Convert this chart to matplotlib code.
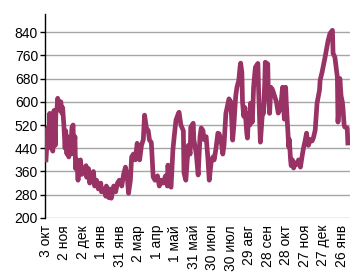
import numpy as np
import pandas as pd
import matplotlib as mpl
mpl.use('Agg')
import matplotlib.pyplot as plt

plt.rcParams["font.family"] = ["Liberation Sans", "DejaVu Sans"]

# days since 3 Oct 2016 and the value
start = pd.Timestamp('2016-10-03')
day = [0, 3, 5, 6, 8, 10, 11, 13, 15, 16, 18, 19, 21, 23, 24, 26, 27, 29, 31, 32,
       34, 35, 37, 39, 40, 42, 44, 45, 47, 48, 50, 52, 53, 55, 56, 58, 61, 65, 66, 69,
       71, 74, 77, 79, 82, 85, 89, 90, 94, 97, 98, 102, 103, 106, 110, 113, 116, 119, 123, 126,
       129, 132, 134, 137, 139, 142, 145, 148, 150, 152, 155, 158, 160, 163, 166, 168, 171, 174, 177, 181,
       184, 187, 190, 194, 197, 198, 200, 203, 206, 208, 211, 215, 216, 219, 223, 224, 227, 231, 234, 235,
       239, 240, 244, 247, 250, 252, 255, 256, 260, 263, 265, 268, 271, 273, 276, 279, 281, 284, 287, 289,
       292, 295, 297, 300, 303, 305, 308, 310, 313, 315, 316, 318, 319, 321, 323, 326, 327, 329, 331, 332,
       334, 335, 337, 339, 340, 344, 345, 347, 348, 350, 352, 353, 355, 356, 360, 361, 363, 365, 368, 371,
       374, 377, 381, 384, 385, 387, 389, 390, 392, 394, 395, 397, 398, 400, 402, 405, 408, 410, 413, 416,
       418, 421, 423, 424, 426, 429, 432, 434, 437, 440, 444, 445, 448, 453, 458, 461, 465, 466, 469, 473,
       474, 476, 477, 479, 481, 482, 484, 485, 489, 490]
price = [400, 510, 460, 560, 440, 530, 430, 570, 450, 560, 580, 612, 590, 570, 600, 560, 580, 520, 440, 500,
         420, 480, 410, 470, 420, 510, 520, 420, 480, 370, 400, 330, 370, 380, 400, 350, 360, 380, 340, 370,
         320, 350, 360, 310, 330, 300, 320, 290, 300, 275, 310, 270, 300, 268, 310, 290, 320, 330, 310, 350,
         375, 340, 285, 330, 410, 420, 400, 457, 420, 400, 450, 470, 554, 510, 500, 468, 460, 341, 330, 345,
         310, 330, 320, 345, 310, 382, 313, 306, 434, 478, 537, 560, 564, 520, 500, 355, 330, 450, 420, 513,
         526, 470, 420, 348, 480, 510, 500, 470, 480, 400, 330, 390, 410, 400, 440, 492, 490, 470, 420, 450,
         560, 590, 610, 600, 468, 520, 620, 650, 674, 720, 733, 700, 600, 550, 580, 490, 475, 560, 520, 595,
         540, 530, 650, 700, 719, 732, 650, 520, 461, 520, 580, 560, 660, 736, 730, 620, 560, 650, 640, 620,
         600, 561, 580, 650, 600, 540, 650, 600, 520, 444, 470, 400, 380, 400, 372, 390, 385, 400, 375, 416,
         440, 470, 492, 468, 450, 470, 465, 475, 502, 595, 640, 674, 700, 753, 811, 835, 846, 767, 753, 684,
         530, 600, 680, 620, 600, 580, 520, 513, 510, 458]

tick_labels = ['3 окт', '2 ноя', '2 дек', '1 янв', '31 янв', '2 мар', '1 апр', '1 май', '31 май',
               '30 июн', '30 июл', '29 авг', '28 сен', '28 окт', '27 ноя', '27 дек', '26 янв']
yticks = [200, 280, 360, 440, 520, 600, 680, 760, 840]

dates = start + pd.to_timedelta(day, unit='D')
tick_dates = pd.date_range(start, periods=len(tick_labels), freq='30D')

fig = plt.figure(figsize=(3.5, 2.73), dpi=100)
ax = fig.add_axes([0.1286, 0.2015, 0.8714, 0.7472])
ax.plot(dates, price, color='#993366', lw=3.4, solid_joinstyle='round', zorder=3)

ax.set_ylim(200, 902)
ax.set_xlim(start - pd.Timedelta(days=1.6), start + pd.Timedelta(days=493.5))
ax.set_yticks(yticks)
ax.set_yticklabels([str(v) for v in yticks], fontsize=10)
ax.set_xticks(tick_dates)
ax.set_xticklabels(tick_labels, rotation=90, fontsize=10)
ax.tick_params(axis='x', length=0, pad=5)
ax.tick_params(axis='y', length=3.5, width=1, direction='out', pad=1.5)

ax.yaxis.grid(True, color='#a6a6a6', lw=1)
ax.set_axisbelow(True)
for s in ['top', 'right', 'bottom']:
    ax.spines[s].set_visible(False)
ax.spines['left'].set_linewidth(1)

plt.savefig('out.png', dpi=100)
